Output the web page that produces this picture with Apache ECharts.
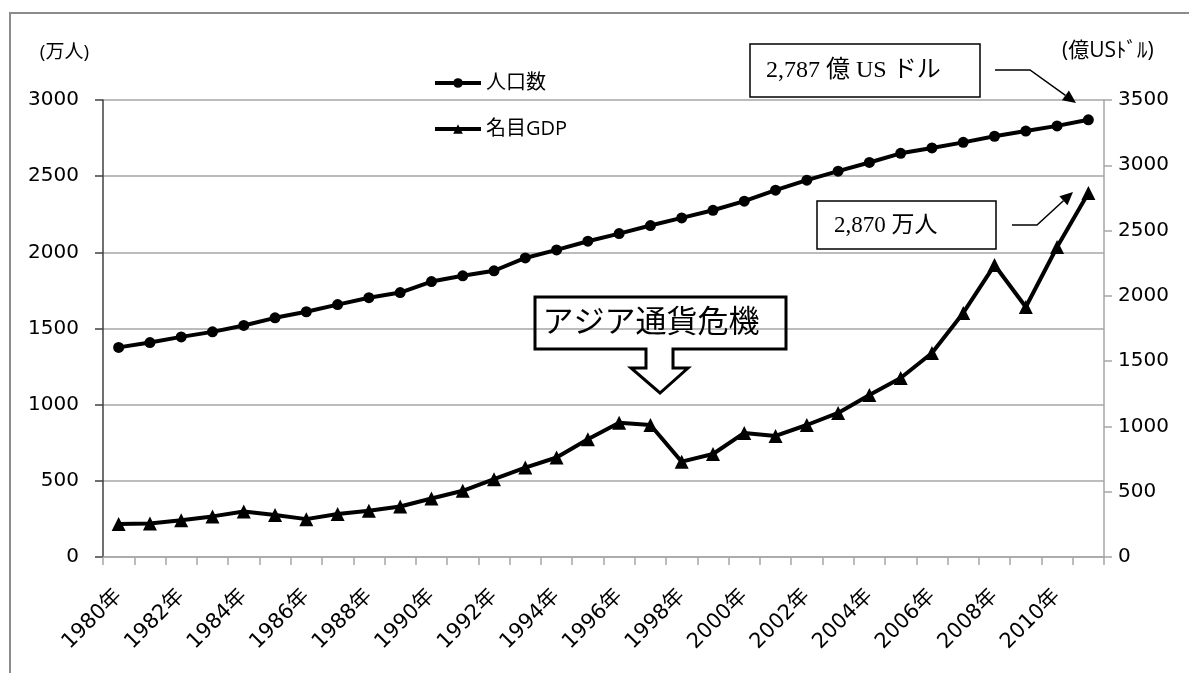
<!DOCTYPE html>
<html>
<head>
<meta charset="utf-8">
<script src="https://cdn.jsdelivr.net/npm/echarts@6/dist/echarts.min.js"></script>
<style>
  html, body { margin: 0; padding: 0; background: #fff; }
  #chart { width: 1189px; height: 673px; }
</style>
</head>
<body>
<div id="chart"></div>
<script>
// Years 1980–2011
const years = [
  '1980年','1981年','1982年','1983年','1984年','1985年','1986年','1987年',
  '1988年','1989年','1990年','1991年','1992年','1993年','1994年','1995年',
  '1996年','1997年','1998年','1999年','2000年','2001年','2002年','2003年',
  '2004年','2005年','2006年','2007年','2008年','2009年','2010年','2011年'
];

// Population (万人), left axis
const population = [
  1376, 1408, 1445, 1478, 1520, 1570, 1610, 1657,
  1702, 1736, 1808, 1846, 1879, 1963, 2016, 2073,
  2123, 2176, 2226, 2276, 2336, 2408, 2474, 2533,
  2590, 2650, 2685, 2722, 2762, 2796, 2830, 2870
];

// Nominal GDP (億USドル), right axis
const gdp = [
  252, 257, 282, 311, 349, 321, 290, 329,
  354, 387, 448, 507, 596, 685, 762, 902,
  1028, 1011, 730, 789, 950, 927, 1011, 1103,
  1241, 1371, 1562, 1869, 2236, 1915, 2374, 2787
];

const leftTicks = { min: 0, max: 3000, interval: 500 };
const rightTicks = { min: 0, max: 3500, interval: 500 };

const sansFont = '"Open Sans", "Noto Sans CJK JP", sans-serif';
const tickFont = '"DejaVu Sans", "Noto Sans CJK JP", sans-serif';
const serifFont = '"Liberation Serif", "Noto Sans CJK JP", serif';

// Polyline with a filled arrowhead at its last point
function arrow(points, headLen, headHalf) {
  const n = points.length;
  const [x1, y1] = points[n - 2];
  const [x2, y2] = points[n - 1];
  const len = Math.hypot(x2 - x1, y2 - y1);
  const dx = (x2 - x1) / len, dy = (y2 - y1) / len;
  const bx = x2 - dx * headLen, by = y2 - dy * headLen;
  const line = points.slice(0, n - 1).concat([[bx, by]]);
  return [
    { type: 'polyline', shape: { points: line }, style: { stroke: '#000', lineWidth: 1.5, fill: null }, z: 100 },
    { type: 'polygon', shape: { points: [[x2, y2], [bx - dy * headHalf, by + dx * headHalf], [bx + dy * headHalf, by - dx * headHalf]] },
      style: { fill: '#000' }, z: 100 }
  ];
}

const plainNumber = v => String(v);

const chart = echarts.init(document.getElementById('chart'), null, { renderer: 'canvas' });

const option = {
  backgroundColor: '#fff',
  animation: false,
  grid: { left: 103, right: 85, top: 100, bottom: 116 },
  legend: {
    orient: 'vertical',
    left: 428,
    top: 68,
    itemWidth: 46,
    itemHeight: 12,
    itemGap: 26,
    lineStyle: { width: 4 },
    textStyle: { fontFamily: sansFont, fontSize: 20, color: '#000' },
    data: ['人口数', '名目GDP']
  },
  xAxis: {
    type: 'category',
    data: years,
    boundaryGap: true,
    axisLine: { lineStyle: { color: '#a6a6a6', width: 1.5 } },
    axisTick: { show: true, interval: 0, length: 8, lineStyle: { color: '#a6a6a6', width: 1.5 } },
    axisLabel: {
      interval: 1, rotate: 45, margin: 36,
      fontFamily: tickFont, fontSize: 21, color: '#000'
    },
    splitLine: { show: false }
  },
  yAxis: [
    {
      type: 'value',
      min: leftTicks.min, max: leftTicks.max, interval: leftTicks.interval,
      name: '(万人)',
      nameLocation: 'end',
      nameGap: 38,
      nameTextStyle: { fontFamily: sansFont, fontSize: 19, color: '#000', align: 'right', padding: [0, 14, 0, 0] },
      axisLine: { show: true, lineStyle: { color: '#404040', width: 1.5 } },
      axisTick: { show: true, length: 8, lineStyle: { color: '#404040', width: 1.5 } },
      axisLabel: { margin: 24, fontFamily: tickFont, fontSize: 20, color: '#000', formatter: plainNumber },
      splitLine: { show: true, lineStyle: { color: '#a6a6a6', width: 1.5 } }
    },
    {
      type: 'value',
      min: rightTicks.min, max: rightTicks.max, interval: rightTicks.interval,
      name: '(億USﾄﾞﾙ)',
      nameLocation: 'end',
      nameGap: 38,
      nameTextStyle: { fontFamily: sansFont, fontSize: 21, color: '#000', align: 'left', padding: [0, 0, 0, -42] },
      axisLine: { show: true, lineStyle: { color: '#a6a6a6', width: 1.5 } },
      axisTick: { show: true, length: 8, lineStyle: { color: '#a6a6a6', width: 1.5 } },
      axisLabel: { margin: 14, fontFamily: tickFont, fontSize: 20, color: '#000', formatter: plainNumber },
      splitLine: { show: false }
    }
  ],
  series: [
    {
      name: '人口数',
      type: 'line',
      yAxisIndex: 0,
      data: population,
      symbol: 'circle',
      symbolSize: 11,
      lineStyle: { color: '#000', width: 4 },
      itemStyle: { color: '#000' },
      z: 3
    },
    {
      name: '名目GDP',
      type: 'line',
      yAxisIndex: 1,
      data: gdp,
      symbol: 'triangle',
      symbolSize: 14,
      lineStyle: { color: '#000', width: 4 },
      itemStyle: { color: '#000' },
      z: 3
    }
  ],
  graphic: [
    // outer frame
    { type: 'rect', shape: { x: 10, y: 13, width: 1200, height: 700 },
      style: { fill: null, stroke: '#8c8c8c', lineWidth: 2 }, silent: true, z: 0 },
    // value callouts
    { type: 'rect', shape: { x: 750, y: 44, width: 230, height: 53 },
      style: { fill: '#fff', stroke: '#000', lineWidth: 1.5 }, z: 90 },
    { type: 'text', x: 766, y: 71,
      style: { text: '2,787 億 US ドル', fontFamily: serifFont, fontSize: 24, fill: '#000', textVerticalAlign: 'middle' }, z: 91 },
    { type: 'rect', shape: { x: 817, y: 201, width: 179, height: 48 },
      style: { fill: '#fff', stroke: '#000', lineWidth: 1.5 }, z: 90 },
    { type: 'text', x: 834, y: 226,
      style: { text: '2,870 万人', fontFamily: serifFont, fontSize: 23, fill: '#000', textVerticalAlign: 'middle' }, z: 91 },
    ...arrow([[995, 70], [1030, 70], [1076, 103]], 13, 6),
    ...arrow([[1012, 225], [1037, 225], [1073, 192]], 13, 6),
    // Asian financial crisis callout with a down arrow
    { type: 'polygon',
      shape: { points: [[535, 297], [786, 297], [786, 349], [673, 349], [673, 368], [688, 368],
                        [660, 393], [631, 368], [646, 368], [646, 349], [535, 349]] },
      style: { fill: null, stroke: '#000', lineWidth: 3 }, z: 90 },
    { type: 'text', x: 651, y: 324,
      style: { text: 'アジア通貨危機', fontFamily: serifFont, fontSize: 31, fill: '#000',
               textAlign: 'center', textVerticalAlign: 'middle' }, z: 91 }
  ]
};

chart.setOption(option);
</script>
</body>
</html>
